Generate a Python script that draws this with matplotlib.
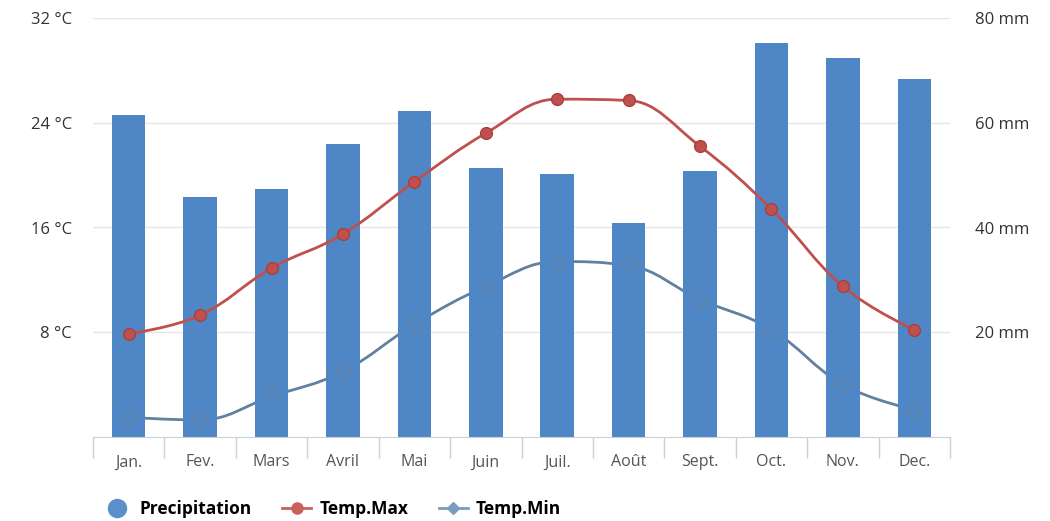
import matplotlib.pyplot as plt
import numpy as np
from matplotlib.lines import Line2D
from matplotlib.path import Path
from matplotlib.patches import PathPatch

plt.rcParams['font.family'] = ['Open Sans', 'DejaVu Sans']

months = ['Jan.', 'Fev.', 'Mars', 'Avril', 'Mai', 'Juin',
          'Juil.', 'Août', 'Sept.', 'Oct.', 'Nov.', 'Dec.']
precip_mm = [61.5, 45.8, 47.3, 55.9, 62.2, 51.3, 50.2, 40.8, 50.8, 75.2, 72.3, 68.3]
temp_max = [7.9, 9.3, 12.9, 15.5, 19.5, 23.2, 25.8, 25.7, 22.2, 17.4, 11.5, 8.2]
temp_min = [1.5, 1.3, 3.1, 5.0, 8.6, 11.5, 13.4, 13.1, 10.5, 8.2, 4.0, 2.1]

temp_ticks = [8, 16, 24, 32]
mm_ticks = [20, 40, 60, 80]

BAR = '#4f86c6'
RED = '#c0504d'
SLATE = '#62809f'
GRID = '#e6e6e6'
AXIS = '#c8cfd8'


def spline_path(xs, ys, smoothing=1.5):
    # bezier spline through the points, same idea as the highcharts "spline" series
    denom = smoothing + 1
    verts = [(xs[0], ys[0])]
    codes = [Path.MOVETO]
    right_prev = (xs[0], ys[0])
    n = len(xs)
    for i in range(1, n):
        x, y = xs[i], ys[i]
        lx, ly = xs[i - 1], ys[i - 1]
        if i < n - 1:
            nx, ny = xs[i + 1], ys[i + 1]
            lcx = (smoothing * x + lx) / denom
            lcy = (smoothing * y + ly) / denom
            rcx = (smoothing * x + nx) / denom
            rcy = (smoothing * y + ny) / denom
            corr = ((rcy - lcy) * (rcx - x)) / (rcx - lcx) + y - rcy
            lcy += corr
            rcy += corr
            if lcy > ly and lcy > y:
                lcy = max(ly, y)
                rcy = 2 * y - lcy
            elif lcy < ly and lcy < y:
                lcy = min(ly, y)
                rcy = 2 * y - lcy
            if rcy > ny and rcy > y:
                rcy = max(ny, y)
                lcy = 2 * y - rcy
            elif rcy < ny and rcy < y:
                rcy = min(ny, y)
                lcy = 2 * y - rcy
        else:
            lcx, lcy = x, y
            rcx, rcy = x, y
        verts += [right_prev, (lcx, lcy), (x, y)]
        codes += [Path.CURVE4] * 3
        right_prev = (rcx, rcy)
    return Path(verts, codes)


fig = plt.figure(figsize=(10.5, 5.21), dpi=100)
ax = fig.add_axes([93 / 1050, 84 / 521, 857 / 1050, 419 / 521])
ax2 = ax.twinx()

x = np.arange(len(months))

ax.set_ylim(0, 32)
ax.set_xlim(-0.5, len(months) - 0.5)

# precipitation bars on the right-hand scale
ax2.bar(x, precip_mm, width=0.47, color=BAR, zorder=2)
ax2.set_ylim(0, 80)
ax2.set_yticks(mm_ticks)
ax2.set_yticklabels(['%d mm' % v for v in mm_ticks])

# the min line runs behind the bars, only its markers sit on top
ax2.add_patch(PathPatch(spline_path(list(x), temp_min), fill=False,
                        edgecolor=SLATE, lw=2, zorder=1,
                        transform=ax.transData))

# temperatures on the left-hand scale, drawn above the bars
ax.set_zorder(ax2.get_zorder() + 1)
ax.patch.set_visible(False)
ax.set_yticks(temp_ticks)
ax.set_yticklabels(['%d °C' % v for v in temp_ticks])

ax.add_patch(PathPatch(spline_path(list(x), temp_max), fill=False,
                       edgecolor=RED, lw=2, zorder=3))
ax.plot(x, temp_max, ls='none', marker='o', ms=8.5, mfc=RED,
        mec='#a8413e', mew=1, zorder=4)
ax.plot(x, temp_min, ls='none', marker='D', ms=8, mfc='none',
        mec=SLATE, mew=1, zorder=4)

# grid lines sit on the bar axes so they stay behind the bars
for v in mm_ticks:
    ax2.axhline(v, color=GRID, lw=1, zorder=0)

for a in (ax, ax2):
    for s in a.spines.values():
        s.set_visible(False)
    a.tick_params(axis='y', length=0, labelsize=12, labelcolor='#333333')
ax.tick_params(axis='y', pad=15)
ax2.tick_params(axis='y', pad=18)
ax2.set_xticks([])

ax.spines['bottom'].set_visible(True)
ax.spines['bottom'].set_color(AXIS)
ax.set_xticks(x)
ax.set_xticklabels(months)
ax.set_xticks(np.arange(-0.5, len(months)), minor=True)
ax.tick_params(axis='x', which='major', length=0, pad=12.5,
               labelsize=11.5, labelcolor='#555555')
ax.tick_params(axis='x', which='minor', length=15, color=AXIS, width=1)

handles = [
    Line2D([], [], ls='none', marker='o', ms=13, mfc='#5b8fcc', mec='#5b8fcc'),
    Line2D([], [], color='#c9605c', lw=2, marker='o', ms=8, mfc='#c9605c', mec='#c9605c'),
    Line2D([], [], color='#7a9cc0', lw=2, marker='D', ms=6, mfc='#7a9cc0', mec='#7a9cc0'),
]
fig.legend(handles, ['Precipitation', 'Temp.Max', 'Temp.Min'],
           loc='center left', bbox_to_anchor=(102 / 1050, 1 - 509 / 521),
           ncol=3, frameon=False, borderaxespad=0, borderpad=0,
           handlelength=1.7, handletextpad=0.45, columnspacing=1.75,
           prop={'weight': 'bold', 'size': 12.5})

fig.savefig('out.png', dpi=100, facecolor='white')
